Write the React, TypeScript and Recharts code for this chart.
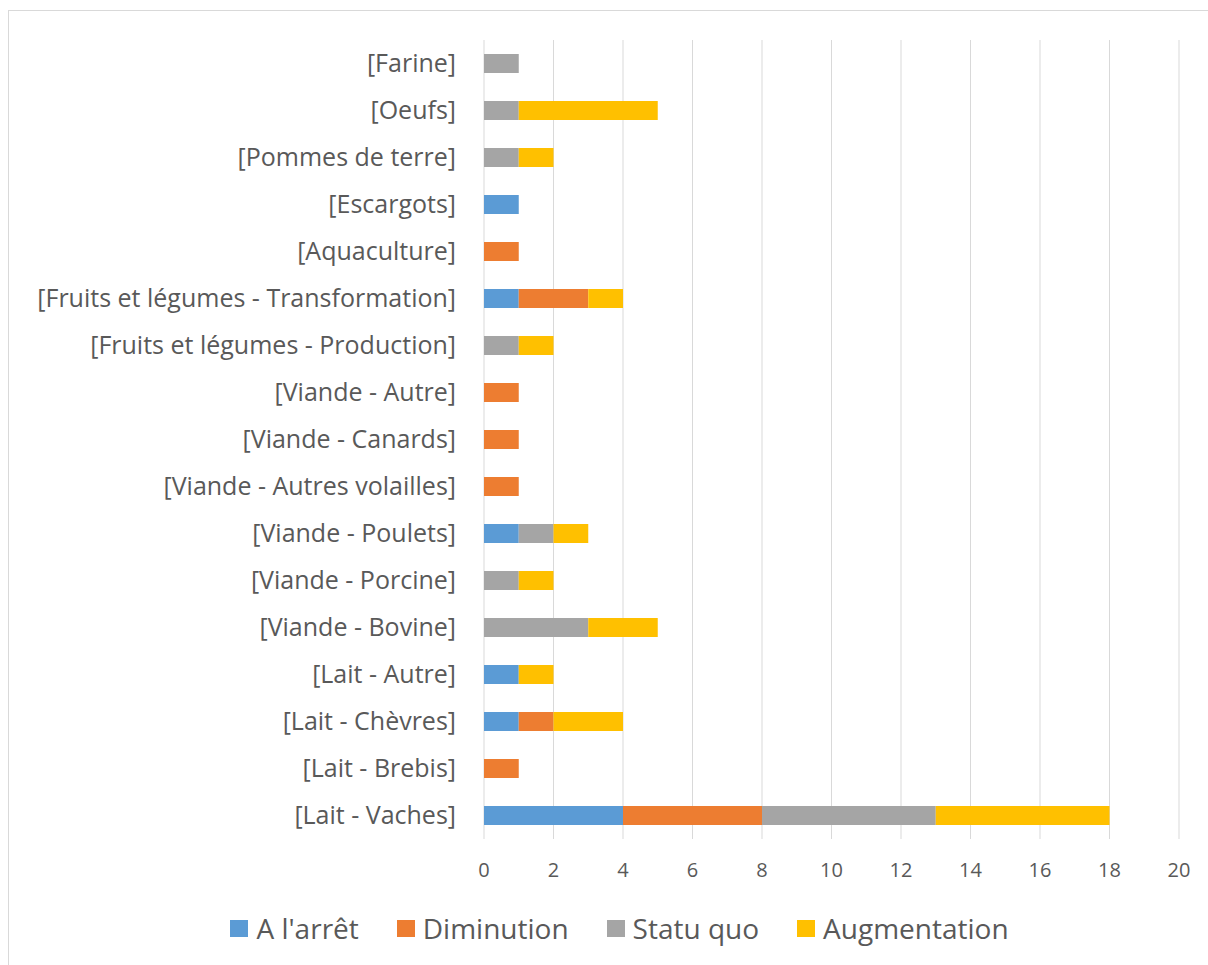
import { BarChart, Bar, XAxis, YAxis, CartesianGrid, Legend } from 'recharts'

const categories = [
  '[Farine]',
  '[Oeufs]',
  '[Pommes de terre]',
  '[Escargots]',
  '[Aquaculture]',
  '[Fruits et légumes - Transformation]',
  '[Fruits et légumes - Production]',
  '[Viande - Autre]',
  '[Viande - Canards]',
  '[Viande - Autres volailles]',
  '[Viande - Poulets]',
  '[Viande - Porcine]',
  '[Viande - Bovine]',
  '[Lait - Autre]',
  '[Lait - Chèvres]',
  '[Lait - Brebis]',
  '[Lait - Vaches]'
]

const arret = [0, 0, 0, 1, 0, 1, 0, 0, 0, 0, 1, 0, 0, 1, 1, 0, 4]
const diminution = [0, 0, 0, 0, 1, 2, 0, 1, 1, 1, 0, 0, 0, 0, 1, 1, 4]
const statuQuo = [1, 1, 1, 0, 0, 0, 1, 0, 0, 0, 1, 1, 3, 0, 0, 0, 5]
const augmentation = [0, 4, 1, 0, 0, 1, 1, 0, 0, 0, 1, 1, 2, 1, 2, 0, 5]

const seriesNames = ["A l'arrêt", 'Diminution', 'Statu quo', 'Augmentation']
const xTicks = [0, 2, 4, 6, 8, 10, 12, 14, 16, 18, 20]

const data = categories.map((name, i) => ({
  name,
  arret: arret[i],
  diminution: diminution[i],
  statuQuo: statuQuo[i],
  augmentation: augmentation[i]
}))

const FONT = '"Open Sans", sans-serif'
const TEXT = '#595959'

function LegendRow({ payload }: any) {
  const items = (payload || [])
    .slice()
    .sort((a: any, b: any) => seriesNames.indexOf(a.value) - seriesNames.indexOf(b.value))
  return (
    <div
      style={{
        display: 'flex',
        justifyContent: 'center',
        alignItems: 'center',
        height: 36,
        gap: 38,
        paddingLeft: 51,
        fontFamily: FONT,
        fontSize: 28,
        color: TEXT
      }}
    >
      {items.map((p: any) => (
        <span key={p.value} style={{ display: 'flex', alignItems: 'center' }}>
          <span style={{ width: 18, height: 17, background: p.color, marginRight: 8 }} />
          {p.value}
        </span>
      ))}
    </div>
  )
}

export default function App() {
  return (
    <div
      style={{
        position: 'absolute',
        left: 8,
        top: 10,
        width: 1200,
        height: 955,
        boxSizing: 'border-box',
        borderTop: '1px solid #d9d9d9',
        borderLeft: '1px solid #d9d9d9',
        background: '#fff'
      }}
    >
      <BarChart
        width={1199}
        height={954}
        data={data}
        layout="vertical"
        margin={{ top: 29, right: 29, bottom: 19, left: 0 }}
        barSize={19}
      >
        <CartesianGrid horizontal={false} stroke="#d9d9d9" />
        <XAxis
          type="number"
          domain={[0, 20]}
          ticks={xTicks}
          axisLine={false}
          tickLine={false}
          tickMargin={18}
          height={71}
          tick={{ fill: TEXT, fontSize: 20, fontFamily: FONT }}
        />
        <YAxis
          type="category"
          dataKey="name"
          width={475}
          axisLine={false}
          tickLine={false}
          tickMargin={22}
          interval={0}
          tick={{ fill: TEXT, fontSize: 25, fontFamily: FONT }}
        />
        <Legend
          verticalAlign="bottom"
          itemSorter={null}
          content={<LegendRow />}
          wrapperStyle={{ height: 36 }}
        />
        <Bar dataKey="arret" name={seriesNames[0]} stackId="a" fill="#5b9bd5" isAnimationActive={false} />
        <Bar dataKey="diminution" name={seriesNames[1]} stackId="a" fill="#ed7d31" isAnimationActive={false} />
        <Bar dataKey="statuQuo" name={seriesNames[2]} stackId="a" fill="#a5a5a5" isAnimationActive={false} />
        <Bar dataKey="augmentation" name={seriesNames[3]} stackId="a" fill="#ffc000" isAnimationActive={false} />
      </BarChart>
    </div>
  )
}
